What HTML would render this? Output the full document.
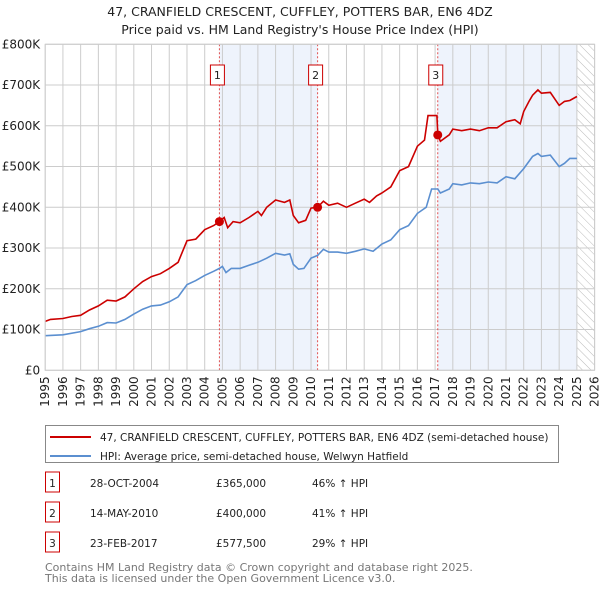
<!DOCTYPE html>
<html><head><meta charset="utf-8"><style>
body{margin:0;background:#fff;font-family:"Liberation Sans","DejaVu Sans",sans-serif;}
svg text{font-family:"DejaVu Sans","Liberation Sans",sans-serif;}
</style></head><body>
<svg id="chart" width="600" height="590" viewBox="0 0 600 590" xmlns="http://www.w3.org/2000/svg">
<defs><pattern id="hatch" width="6" height="6" patternUnits="userSpaceOnUse" patternTransform="rotate(-45)"><line x1="0" y1="0" x2="0" y2="6" stroke="#bbb" stroke-width="1"/></pattern></defs>
<text x="300" y="16" text-anchor="middle" font-size="12.5" fill="#222">47, CRANFIELD CRESCENT, CUFFLEY, POTTERS BAR, EN6 4DZ</text>
<text x="300" y="34" text-anchor="middle" font-size="12.5" fill="#222">Price paid vs. HM Land Registry's House Price Index (HPI)</text>
<g id="plot"></g>
<g>
<rect x="45.5" y="425.5" width="513" height="37" fill="#fff" stroke="#888"/>
<line x1="50" y1="437" x2="91" y2="437" stroke="#cc0000" stroke-width="2"/>
<text x="100" y="441" font-size="10.5" fill="#222">47, CRANFIELD CRESCENT, CUFFLEY, POTTERS BAR, EN6 4DZ (semi-detached house)</text>
<line x1="50" y1="456" x2="91" y2="456" stroke="#5b8fd0" stroke-width="2"/>
<text x="100" y="460" font-size="10.5" fill="#222">HPI: Average price, semi-detached house, Welwyn Hatfield</text>
</g>
<g id="table" font-size="10.5" fill="#222"></g>
<text x="45" y="571" font-size="11" fill="#777">Contains HM Land Registry data © Crown copyright and database right 2025.</text>
<text x="45" y="582" font-size="11" fill="#777">This data is licensed under the Open Government Licence v3.0.</text>
</svg>
<script>
const hpiYears=[1995,1996,1997,1997.5,1998,1998.5,1999,1999.5,2000,2000.5,2001,2001.5,2002,2002.5,2003,2003.5,2004,2004.5,2004.83,2005,2005.2,2005.5,2006,2006.5,2007,2007.5,2008,2008.5,2008.8,2009,2009.3,2009.6,2010,2010.37,2010.7,2011,2011.5,2012,2012.5,2013,2013.5,2014,2014.5,2015,2015.5,2016,2016.5,2016.8,2017.15,2017.3,2017.8,2018,2018.5,2019,2019.5,2020,2020.5,2021,2021.5,2022,2022.5,2022.8,2023,2023.5,2024,2024.3,2024.6,2025];
const hpiValues=[85,87,95,102,108,117,116,125,138,150,158,160,168,180,210,220,233,243,250,255,240,250,250,258,265,275,287,283,286,260,248,250,275,282,297,290,290,287,292,298,292,310,320,345,355,385,400,445,445,435,445,458,455,460,458,462,460,475,470,495,525,532,525,528,500,508,520,520];
const ppYears=[1995,1995.3,1996,1996.5,1997,1997.5,1998,1998.5,1999,1999.5,2000,2000.5,2001,2001.5,2002,2002.5,2003,2003.5,2004,2004.5,2004.83,2005.1,2005.3,2005.6,2006,2006.5,2007,2007.2,2007.5,2008,2008.5,2008.8,2009,2009.3,2009.7,2010,2010.37,2010.7,2011,2011.5,2012,2012.5,2013,2013.3,2013.7,2014,2014.5,2015,2015.5,2016,2016.4,2016.6,2017.1,2017.15,2017.3,2017.8,2018,2018.5,2019,2019.5,2020,2020.5,2021,2021.5,2021.8,2022,2022.3,2022.5,2022.8,2023,2023.5,2024,2024.3,2024.6,2025];
const ppValues=[120,125,127,132,135,148,158,172,170,180,200,218,230,237,250,265,318,322,345,355,365,375,350,365,362,375,390,380,400,418,412,418,380,362,368,398,400,415,405,410,400,410,420,412,428,435,450,490,500,550,565,625,625,577.5,562,578,592,588,592,588,595,595,610,615,605,635,660,675,688,680,682,650,660,662,672];
const saleYears=[2004.83,2010.37,2017.15];
const saleValues=[365,400,577.5];
const saleLabels=["1","2","3"];
const saleDates=["28-OCT-2004","14-MAY-2010","23-FEB-2017"];
const salePrices=["£365,000","£400,000","£577,500"];
const saleHpi=["46% ↑ HPI","41% ↑ HPI","29% ↑ HPI"];
const yTicks=[0,100,200,300,400,500,600,700,800];
const yTickLabels=["£0","£100K","£200K","£300K","£400K","£500K","£600K","£700K","£800K"];
const xTicks=[1995,1996,1997,1998,1999,2000,2001,2002,2003,2004,2005,2006,2007,2008,2009,2010,2011,2012,2013,2014,2015,2016,2017,2018,2019,2020,2021,2022,2023,2024,2025,2026];

const L=45.2,R=594.6,T=44.3,B=370.3,X0=1995,X1=2026,YMAX=800;
const sx=v=>L+(v-X0)/(X1-X0)*(R-L);
const sy=v=>B-v/YMAX*(B-T);
const NS="http://www.w3.org/2000/svg";
const plot=document.getElementById('plot');
function mk(tag,attrs,parent){const e=document.createElementNS(NS,tag);for(const k in attrs)e.setAttribute(k,attrs[k]);(parent||plot).appendChild(e);return e;}
mk('rect',{x:L,y:T,width:R-L,height:B-T,fill:'#fff'});
let s1=mk('rect',{x:sx(saleYears[0]),y:T,width:sx(saleYears[1])-sx(saleYears[0]),height:B-T,fill:'#eef3fc'});


let s2=mk('rect',{x:sx(saleYears[2]),y:T,width:sx(2025)-sx(saleYears[2]),height:B-T,fill:'#eef3fc'});


let hz=mk('rect',{x:sx(2025),y:T,width:R-sx(2025),height:B-T,fill:'url(#hatch)'});


xTicks.forEach(t=>{mk('line',{x1:sx(t),x2:sx(t),y1:T,y2:B,stroke:'#ccc','stroke-width':1});
 const tx=mk('text',{x:0,y:0,'font-size':12,fill:'#222','text-anchor':'end',transform:`translate(${sx(t)+4},${B+6}) rotate(-90)`});tx.textContent=t;
 
 });
yTicks.forEach((t,i)=>{mk('line',{x1:L,x2:R,y1:sy(t),y2:sy(t),stroke:'#ccc','stroke-width':1});
 const tx=mk('text',{x:L-5,y:sy(t)+4,'font-size':12,fill:'#222','text-anchor':'end'});tx.textContent=yTickLabels[i];
 
 });
saleYears.forEach((y,i)=>{const l=mk('line',{x1:sx(y),x2:sx(y),y1:T,y2:B,stroke:'#e05050','stroke-width':1,'stroke-dasharray':'2,2'});
 
 
 const bx=mk('rect',{x:sx(y)-9,y:65,width:14,height:20,fill:'#fff',stroke:'#cc0000'});
 
 
 const t=mk('text',{x:sx(y)-2,y:79,'font-size':11,'text-anchor':'middle',fill:'#222'});t.textContent=saleLabels[i];});
function path(xs,vs,color,name){const d=xs.map((x,i)=>(i?'L':'M')+sx(x).toFixed(1)+','+sy(vs[i]).toFixed(1)).join('');
 const p=mk('path',{d:d,fill:'none',stroke:color,'stroke-width':1.6});
 
 }
path(hpiYears,hpiValues,'#5b8fd0','hpi-line');
path(ppYears,ppValues,'#cc0000','price-paid-line');
saleYears.forEach((y,i)=>{const c=mk('circle',{cx:sx(y),cy:sy(saleValues[i]),r:4.5,fill:'#cc0000'});
 
 });
mk('rect',{x:L,y:T,width:R-L,height:B-T,fill:'none',stroke:'#ccc'});
const tb=document.getElementById('table');
saleDates.forEach((d,i)=>{const y=483+i*30;
 const b=mk('rect',{x:45.5,y:y-11,width:14,height:20,fill:'#fff',stroke:'#cc0000'},tb);
 
 
 const cells=[[52.5,saleLabels[i],'middle'],[90,d,'start'],[216,salePrices[i],'start'],[312,saleHpi[i],'start']];
 cells.forEach(c=>{const t=mk('text',{x:c[0],y:y+4,'text-anchor':c[2]},tb);t.textContent=c[1];
  
  });});
</script>
</body></html>
